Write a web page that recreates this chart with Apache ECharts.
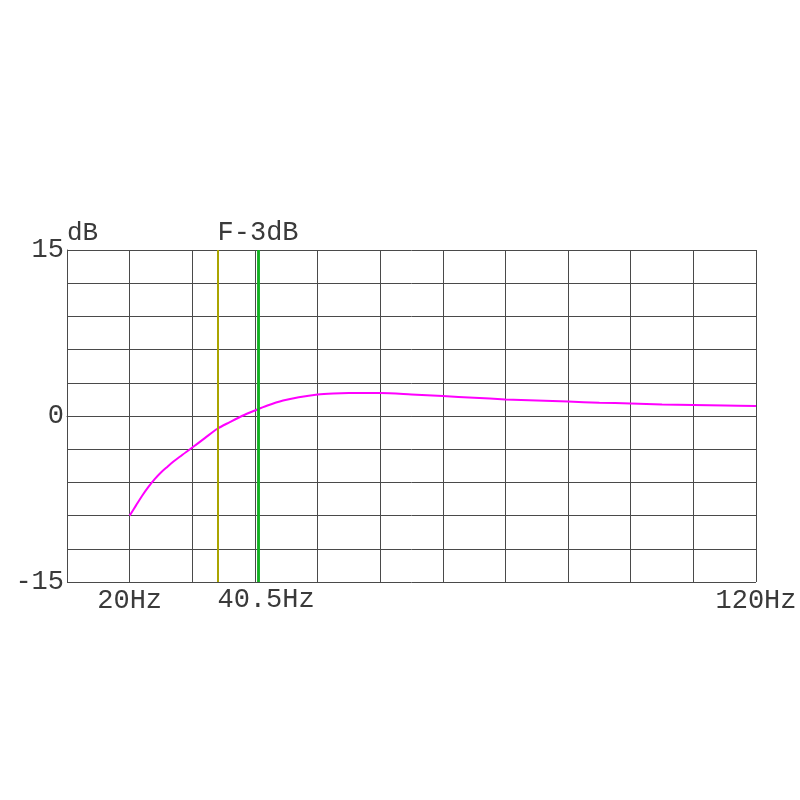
<!DOCTYPE html>
<html><head><meta charset="utf-8">
<script src="https://cdn.jsdelivr.net/npm/echarts@6/dist/echarts.min.js"></script>
<style>html,body{margin:0;padding:0;background:#fff}#c{width:800px;height:800px}</style>
</head><body><div id="c"></div>
<script>
const freqHz = [20,21,22,23,24,25,26,27,28,30,32,34,36,38,40,42,44.5,47,50,52.5,55,60,65,70,75,80,85,90,95,100,105,110,115,120];
const gainDb = [-9.0,-8.1,-7.2,-6.4,-5.7,-5.1,-4.6,-4.12,-3.68,-2.85,-2.0,-1.15,-0.55,0.02,0.5,0.95,1.4,1.7,1.95,2.04,2.07,2.07,1.95,1.8,1.65,1.5,1.4,1.3,1.2,1.13,1.05,1.0,0.95,0.9];
const xTickLabels = {20: '20Hz', 120: '120Hz'};
const yTickLabels = {'-15': '-15', '0': '0', '15': '15'};
const markerYellowHz = 34;
const markerGreenHz = 40.5;
const markerGreenLabel = '40.5Hz';
const markerTopLabel = 'F-3dB';
const yUnit = 'dB';

const gridColor = '#4a4a4a';
const textColor = '#3a3a3a';
const font = '"Liberation Mono", "DejaVu Sans Mono", monospace';
const fs = 27;

const chart = echarts.init(document.getElementById('c'));
chart.setOption({
  backgroundColor: '#fff',
  animation: false,
  grid: {left: 67, right: 44, top: 250, bottom: 218},
  xAxis: {
    type: 'value', min: 10, max: 120, interval: 10,
    axisLine: {show: true, lineStyle: {color: gridColor, width: 1}},
    axisTick: {show: false},
    splitLine: {show: true, lineStyle: {color: gridColor, width: 1}},
    axisLabel: {
      show: true, margin: 5, color: textColor, fontFamily: font, fontSize: fs,
      formatter: v => xTickLabels[v] || ''
    }
  },
  yAxis: {
    type: 'value', min: -15, max: 15, interval: 3,
    name: yUnit, nameLocation: 'end', nameGap: 4, nameMoveOverlap: false,
    nameTextStyle: {color: textColor, fontFamily: font, fontSize: 26, align: 'left', verticalAlign: 'bottom'},
    axisLine: {show: true, lineStyle: {color: gridColor, width: 1}},
    axisTick: {show: false},
    splitLine: {show: true, lineStyle: {color: gridColor, width: 1}},
    axisLabel: {
      show: true, margin: 3, color: textColor, fontFamily: font, fontSize: fs,
      formatter: v => yTickLabels[String(v)] || ''
    }
  },
  series: [{
    type: 'line',
    data: freqHz.map((f, i) => [f, gainDb[i]]),
    smooth: 0.3,
    symbol: 'none',
    lineStyle: {color: '#ff00ff', width: 2},
    markLine: {
      silent: true, symbol: 'none',
      data: [
        [{coord: [markerYellowHz, -15], lineStyle: {color: '#aaa400', width: 2, type: 'solid'}, label: {show: false}},
         {coord: [markerYellowHz, 15]}],
        [{coord: [markerGreenHz, -15], lineStyle: {color: '#10b020', width: 2.5, type: 'solid'},
          label: {show: true, position: 'start', formatter: markerGreenLabel, color: textColor, fontFamily: font, fontSize: fs, distance: 4, offset: [8, 0]}},
         {coord: [markerGreenHz, 15]}],
        [{coord: [markerGreenHz, -15], lineStyle: {color: '#10b020', width: 2.5, type: 'solid'},
          label: {show: true, position: 'end', formatter: markerTopLabel, color: textColor, fontFamily: font, fontSize: fs, distance: 4}},
         {coord: [markerGreenHz, 15]}]
      ]
    }
  }]
});
</script></body></html>
